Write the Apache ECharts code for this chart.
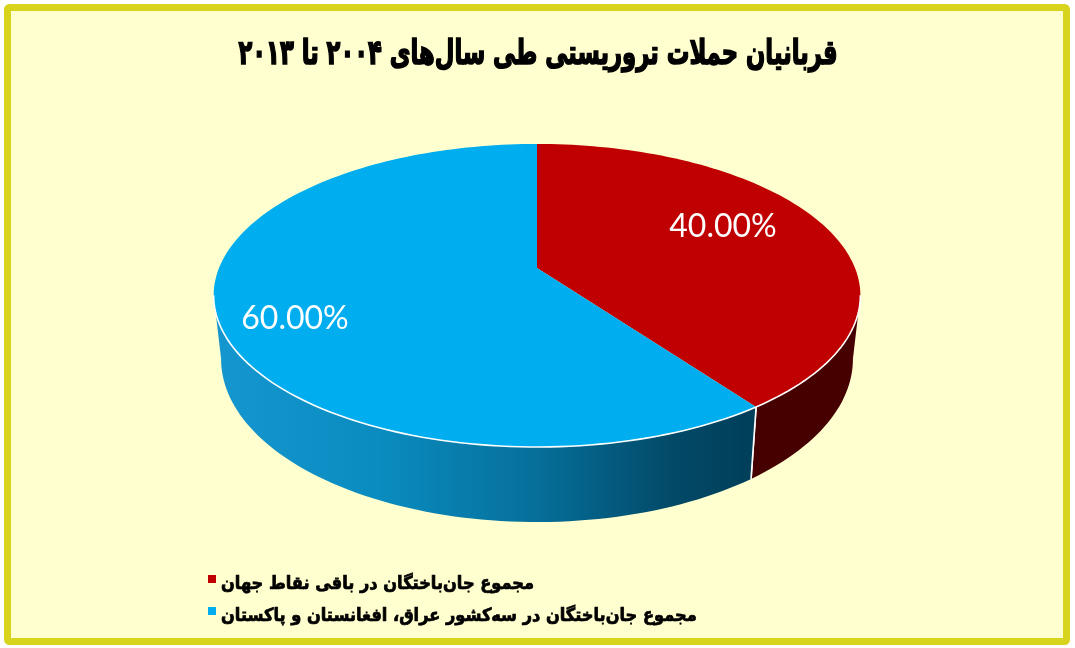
<!DOCTYPE html>
<html><head><meta charset="utf-8">
<style>html,body{margin:0;padding:0;background:#fff}#c{width:1075px;height:648px}</style>
<script src="https://cdn.jsdelivr.net/npm/echarts@6/dist/echarts.min.js"></script>
</head><body><div id="c"></div>
<script>
const chartTitle = 'قربانیان حملات تروریستی طی سال‌های ۲۰۰۴ تا ۲۰۱۳';
const categories = ['مجموع جان‌باختگان در باقی نقاط جهان', 'مجموع جان‌باختگان در سه‌کشور عراق، افغانستان و پاکستان'];
const values = [40, 60];
const topColors = ['#c00000', '#00aeef'];
const labelAnchors = [[723, 227], [295, 319]];

const total = values.reduce((a, b) => a + b, 0);
const CX = 537, CY = 268, CY_BOT = 329.4, SX = 318, A = 97.9, K = -0.1815, DEPTH = 0.977;

function topPt(deg) {
  const t = deg * Math.PI / 180, X = Math.sin(t), Y = -Math.cos(t), w = 1 + K * Y;
  return [CX + SX * X / w, (CY + A * Y) / w];
}
function botPt(deg) {
  const t = deg * Math.PI / 180, X = Math.sin(t), Y = -Math.cos(t), w = 1 + K * Y;
  return [CX + DEPTH * SX * X / w, (CY_BOT + A * Y) / w];
}
function arc(fn, a, b) {
  const pts = [], n = Math.max(2, Math.ceil(Math.abs(b - a) / 1.5));
  for (let i = 0; i <= n; i++) pts.push(fn(a + (b - a) * i / n));
  return pts;
}
const SIL_R = 100.4, SIL_L = 259.6;

const wallFills = [
  '#470000',
  { type: 'linear', x: 218, y: 0, x2: 751, y2: 0, global: true, colorStops: [
    { offset: 0, color: '#1596cf' }, { offset: 0.3, color: '#0a8cc0' }, { offset: 0.6, color: '#066f9a' },
    { offset: 0.85, color: '#024a68' }, { offset: 1, color: '#013f5a' } ] }
];

function makeSeries(i) {
  return {
    type: 'custom', name: categories[i], coordinateSystem: 'none',
    itemStyle: { color: topColors[i] }, data: [values[i]],
    renderItem: function (params, api) {
      const before = values.slice(0, i).reduce((a, b) => a + b, 0);
      const a0 = before / total * 360, a1 = (before + api.value(0)) / total * 360;
      const w0 = Math.max(a0, SIL_R), w1 = Math.min(a1, SIL_L);
      const wall = arc(topPt, w0, w1).concat(arc(botPt, w1, w0));
      const top = [[CX, CY]].concat(arc(topPt, a0, a1));
      const divider = w1 === SIL_L ? w0 : w1;
      const children = [
        { type: 'polygon', shape: { points: wall }, style: { fill: wallFills[i] } },
        { type: 'polygon', shape: { points: top }, style: { fill: topColors[i] } },
        { type: 'polyline', shape: { points: arc(topPt, w0, w1) }, style: { fill: null, stroke: '#fff', lineWidth: 1.6 } },
        { type: 'polyline', shape: { points: [topPt(divider), botPt(divider)] }, style: { fill: null, stroke: '#fff', lineWidth: 1.6 } },
        { type: 'text', style: { x: labelAnchors[i][0], y: labelAnchors[i][1], text: (api.value(0) / total * 100).toFixed(2) + '%',
          fill: '#fff', font: '32px Lato', textAlign: 'center', textVerticalAlign: 'middle' } }
      ];
      return { type: 'group', children };
    }
  };
}

const chart = echarts.init(document.getElementById('c'), null, { renderer: 'canvas' });
chart.setOption({
  animation: false,
  backgroundColor: '#ffffff',
  graphic: [
    { type: 'rect', z: -10, shape: { x: 7.5, y: 7.5, width: 1059, height: 634, r: 2 },
      style: { fill: '#ffffcf', stroke: '#d8d31c', lineWidth: 7 } },
    { type: 'text', z: 5, x: 538, y: 55, scaleY: 1.35,
      style: { text: chartTitle, font: 'bold 25.2px "DejaVu Sans Condensed"', fill: '#000', stroke: '#000', lineWidth: 1.1,
        textAlign: 'center', textVerticalAlign: 'middle' } }
  ],
  legend: { orient: 'vertical', left: 203, top: 570, itemGap: 13, itemWidth: 8, itemHeight: 19,
    icon: 'path://M0,0H8V8H0Z M0,19H0.01V19H0Z',
    data: categories,
    textStyle: { fontFamily: 'DejaVu Sans Condensed', fontWeight: 'bold', fontSize: 18, color: '#000', textBorderColor: '#000', textBorderWidth: 0.7 } },
  series: values.map((v, i) => makeSeries(i))
});
</script></body></html>
